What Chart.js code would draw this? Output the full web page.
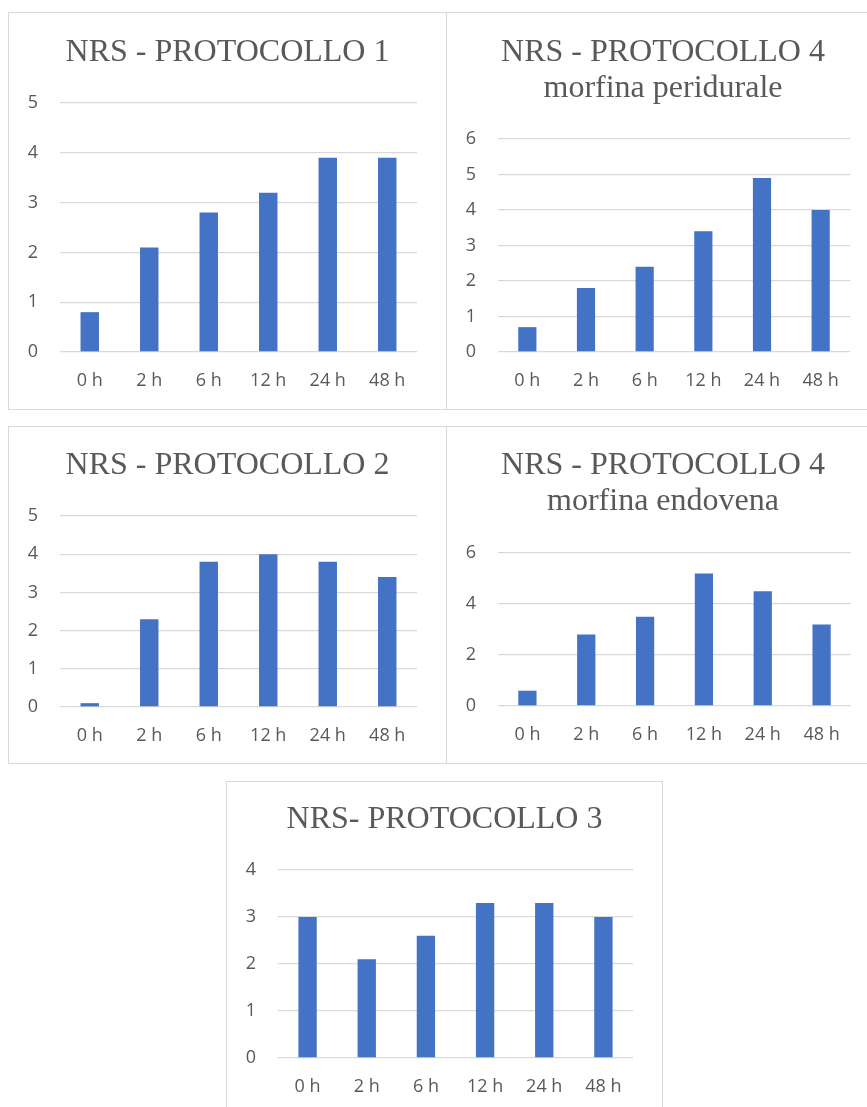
<!DOCTYPE html>
<html>
<head>
<meta charset="utf-8">
<script src="https://cdn.jsdelivr.net/npm/chart.js@4/dist/chart.umd.min.js"></script>
<style>
    body { margin: 0; background: #ffffff; width: 867px; height: 1107px; overflow: hidden; position: relative; }
    .box { position: absolute; box-sizing: border-box; border: 1px solid #d9d9d9; background: #fff; }
    .box canvas { display: block; }
</style>
</head>
<body>
<div class="box" id="b1" style="left:8px;top:12px;width:439px;height:398px"><canvas id="c1" width="437" height="396"></canvas></div>
<div class="box" id="b2" style="left:446px;top:12px;width:434px;height:398px"><canvas id="c2" width="432" height="396"></canvas></div>
<div class="box" id="b3" style="left:8px;top:426px;width:439px;height:338px"><canvas id="c3" width="437" height="336"></canvas></div>
<div class="box" id="b4" style="left:446px;top:426px;width:434px;height:338px"><canvas id="c4" width="432" height="336"></canvas></div>
<div class="box" id="b5" style="left:226px;top:781px;width:437px;height:340px"><canvas id="c5" width="435" height="338"></canvas></div>
<script>
// Data
const hours = ['0 h', '2 h', '6 h', '12 h', '24 h', '48 h'];

const title1 = ['NRS - PROTOCOLLO 1'];
const values1 = [0.8, 2.1, 2.8, 3.2, 3.9, 3.9];
const yTicks1 = { max: 5, step: 1 };

const title4p = ['NRS - PROTOCOLLO 4', 'morfina peridurale'];
const values4p = [0.7, 1.8, 2.4, 3.4, 4.9, 4.0];
const yTicks4p = { max: 6, step: 1 };

const title2 = ['NRS - PROTOCOLLO 2'];
const values2 = [0.1, 2.3, 3.8, 4.0, 3.8, 3.4];
const yTicks2 = { max: 5, step: 1 };

const title4e = ['NRS - PROTOCOLLO 4', 'morfina endovena'];
const values4e = [0.6, 2.8, 3.5, 5.2, 4.5, 3.2];
const yTicks4e = { max: 6, step: 2 };

const title3 = ['NRS- PROTOCOLLO 3'];
const values3 = [3.0, 2.1, 2.6, 3.3, 3.3, 3.0];
const yTicks3 = { max: 4, step: 1 };

const textColor = '#595959';
const gridColor = '#d9d9d9';
const barColor = '#4472c4';

// build one bar chart; frame = where the plot area sits inside the canvas
function makeChart(id, title, values, yTicks, frame) {
    const ctx = document.getElementById(id).getContext('2d');
    return new Chart(ctx, {
        type: 'bar',
        data: {
            labels: hours,
            datasets: [{
                data: values,
                backgroundColor: barColor,
                borderWidth: 0,
                categoryPercentage: 1,
                barPercentage: 0.31
            }]
        },
        options: {
            responsive: false,
            animation: false,
            layout: { padding: 0 },
            plugins: {
                legend: { display: false },
                tooltip: { enabled: false },
                title: {
                    display: true,
                    text: title,
                    color: textColor,
                    font: { family: '"Liberation Serif", "Times New Roman", serif', size: 32, weight: 'normal', lineHeight: 1.125 },
                    padding: { top: frame.titleTop, bottom: frame.titleBottom }
                }
            },
            scales: {
                x: {
                    grid: { display: false, drawTicks: false },
                    border: { display: false },
                    ticks: {
                        color: textColor,
                        padding: 18,
                        font: { family: '"Open Sans", sans-serif', size: 18 }
                    },
                    afterFit: (scale) => { scale.height = frame.xHeight; }
                },
                y: {
                    min: 0,
                    max: yTicks.max,
                    grid: { color: gridColor, lineWidth: 1.3, drawTicks: false },
                    border: { display: false },
                    ticks: {
                        stepSize: yTicks.step,
                        color: textColor,
                        padding: 22,
                        font: { family: '"Open Sans", sans-serif', size: 18 }
                    },
                    afterFit: (scale) => { scale.width = 51; }
                },
                // empty axis on the right, only keeps the white margin so the title stays centred
                gap: {
                    type: 'linear',
                    position: 'right',
                    grid: { display: false, drawTicks: false },
                    border: { display: false },
                    ticks: { display: false },
                    afterFit: (scale) => { scale.width = frame.right; }
                }
            }
        }
    });
}

makeChart('c1', title1, values1, yTicks1, { right: 29, titleTop: 22, titleBottom: 32, xHeight: 57 });
makeChart('c2', title4p, values4p, yTicks4p, { right: 29, titleTop: 22, titleBottom: 32, xHeight: 57 });
makeChart('c3', title2, values2, yTicks2, { right: 29, titleTop: 21, titleBottom: 32, xHeight: 56 });
makeChart('c4', title4e, values4e, yTicks4e, { right: 28, titleTop: 21, titleBottom: 33, xHeight: 57 });
makeChart('c5', title3, values3, yTicks3, { right: 29, titleTop: 20, titleBottom: 32, xHeight: 62 });
</script>
</body>
</html>
